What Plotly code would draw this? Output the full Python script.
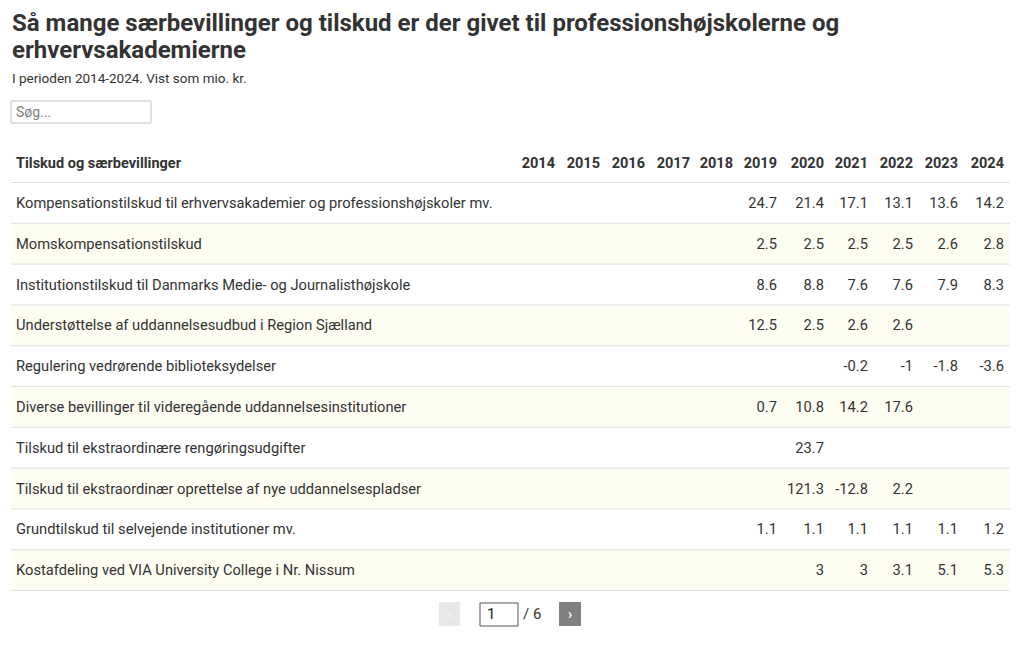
import plotly.graph_objects as go

# Table data (mio. kr.)
header_label = "Tilskud og særbevillinger"
years = ["2014", "2015", "2016", "2017", "2018", "2019", "2020", "2021", "2022", "2023", "2024"]
categories = [
    "Kompensationstilskud til erhvervsakademier og professionshøjskoler mv.",
    "Momskompensationstilskud",
    "Institutionstilskud til Danmarks Medie- og Journalisthøjskole",
    "Understøttelse af uddannelsesudbud i Region Sjælland",
    "Regulering vedrørende biblioteksydelser",
    "Diverse bevillinger til videregående uddannelsesinstitutioner",
    "Tilskud til ekstraordinære rengøringsudgifter",
    "Tilskud til ekstraordinær oprettelse af nye uddannelsespladser",
    "Grundtilskud til selvejende institutioner mv.",
    "Kostafdeling ved VIA University College i Nr. Nissum",
]
y2014 = [None, None, None, None, None, None, None, None, None, None]
y2015 = [None, None, None, None, None, None, None, None, None, None]
y2016 = [None, None, None, None, None, None, None, None, None, None]
y2017 = [None, None, None, None, None, None, None, None, None, None]
y2018 = [None, None, None, None, None, None, None, None, None, None]
y2019 = [24.7, 2.5, 8.6, 12.5, None, 0.7, None, None, 1.1, None]
y2020 = [21.4, 2.5, 8.8, 2.5, None, 10.8, 23.7, 121.3, 1.1, 3]
y2021 = [17.1, 2.5, 7.6, 2.6, -0.2, 14.2, None, -12.8, 1.1, 3]
y2022 = [13.1, 2.5, 7.6, 2.6, -1, 17.6, None, 2.2, 1.1, 3.1]
y2023 = [13.6, 2.6, 7.9, None, -1.8, None, None, None, 1.1, 5.1]
y2024 = [14.2, 2.8, 8.3, None, -3.6, None, None, None, 1.2, 5.3]
page = 1
pages = 6

W, H = 1020, 646
OFF = 8  # page body margin
FONT = "Roboto"
TXT = "#333333"
CREAM = "#fefdf2"
LINE = "#e0e0e0"


def px(x):
    return (x - OFF) / W


def py(y):
    return 1 - (y - OFF) / H


def fmt(v):
    return "" if v is None else f"{v:g}"


value_cols = [y2014, y2015, y2016, y2017, y2018, y2019, y2020, y2021, y2022, y2023, y2024]
columns = [categories] + [[fmt(v) for v in col] for col in value_cols]

# geometry (page pixels)
left, right = 11, 1010
line0 = 182.5
row_h = 40.8
n = len(categories)
tab_top = 147
head_h = 42
col_w = [510, 45, 45, 45, 45, 43, 44, 47, 44, 45, 45, 46]

fig = go.Figure(go.Table(
    domain=dict(x=[px(8), px(1012)], y=[py(tab_top + head_h + n * row_h + 6), py(tab_top)]),
    columnwidth=col_w,
    header=dict(
        values=["<b>" + header_label + "</b>"] + ["<b>" + y + "</b>" for y in years],
        align=["left"] + ["right"] * len(years),
        fill_color="rgba(0,0,0,0)",
        line=dict(color="rgba(0,0,0,0)", width=0),
        font=dict(family=FONT, size=14.5, color=TXT),
        height=head_h,
    ),
    cells=dict(
        values=columns,
        align=["left"] + ["right"] * len(years),
        fill_color="rgba(0,0,0,0)",
        line=dict(color="rgba(0,0,0,0)", width=0),
        font=dict(family=FONT, size=14.7, color=TXT),
        height=row_h,
    ),
))

shapes = []
# zebra backgrounds
for i in range(n):
    if i % 2 == 1:
        shapes.append(dict(type="rect", xref="paper", yref="paper", layer="below",
                           x0=px(left), x1=px(right),
                           y0=py(line0 + (i + 1) * row_h), y1=py(line0 + i * row_h),
                           line=dict(width=0), fillcolor=CREAM))
# row separators
for i in range(n + 1):
    yy = line0 + i * row_h
    shapes.append(dict(type="line", xref="paper", yref="paper",
                       x0=px(left), x1=px(right), y0=py(yy), y1=py(yy),
                       line=dict(color=LINE, width=1)))

# search box
shapes.append(dict(type="rect", xref="paper", yref="paper",
                   x0=px(11), x1=px(151), y0=py(123), y1=py(101),
                   line=dict(color="#c4c4c4", width=1), fillcolor="white"))
# pagination
shapes.append(dict(type="rect", xref="paper", yref="paper",
                   x0=px(439), x1=px(460), y0=py(626), y1=py(602),
                   line=dict(width=0), fillcolor="#e8e8e8"))
shapes.append(dict(type="rect", xref="paper", yref="paper",
                   x0=px(480), x1=px(518), y0=py(626), y1=py(603),
                   line=dict(color="#555555", width=1), fillcolor="white"))
shapes.append(dict(type="rect", xref="paper", yref="paper",
                   x0=px(559), x1=px(581), y0=py(626), y1=py(602),
                   line=dict(width=0), fillcolor="#808080"))

annotations = [
    dict(text="<b>Så mange særbevillinger og tilskud er der givet til professionshøjskolerne og</b>",
         x=px(10), y=py(23), xanchor="left", yanchor="middle",
         font=dict(family=FONT, size=24, color=TXT)),
    dict(text="<b>erhvervsakademierne</b>",
         x=px(10), y=py(50), xanchor="left", yanchor="middle",
         font=dict(family=FONT, size=24, color=TXT)),
    dict(text="I perioden 2014-2024. Vist som mio. kr.",
         x=px(10), y=py(78), xanchor="left", yanchor="middle",
         font=dict(family=FONT, size=13.5, color=TXT)),
    dict(text="Søg...", x=px(14), y=py(112), xanchor="left", yanchor="middle",
         font=dict(family=FONT, size=14, color="#808080")),
    dict(text="‹", x=px(449.5), y=py(614), xanchor="center", yanchor="middle",
         font=dict(family=FONT, size=13, color="#fafafa")),
    dict(text=str(page), x=px(485), y=py(614), xanchor="left", yanchor="middle",
         font=dict(family=FONT, size=15, color="#222222")),
    dict(text=f"/ {pages}", x=px(521), y=py(614), xanchor="left", yanchor="middle",
         font=dict(family=FONT, size=15, color=TXT)),
    dict(text="<b>›</b>", x=px(570), y=py(614), xanchor="center", yanchor="middle",
         font=dict(family=FONT, size=14, color="white")),
]
for a in annotations:
    a.update(xref="paper", yref="paper", showarrow=False)

fig.update_layout(
    width=W, height=H,
    margin=dict(l=0, r=0, t=0, b=0),
    paper_bgcolor="white",
    shapes=shapes,
    annotations=annotations,
    font=dict(family=FONT, color=TXT),
)

fig.write_html("out.html")
